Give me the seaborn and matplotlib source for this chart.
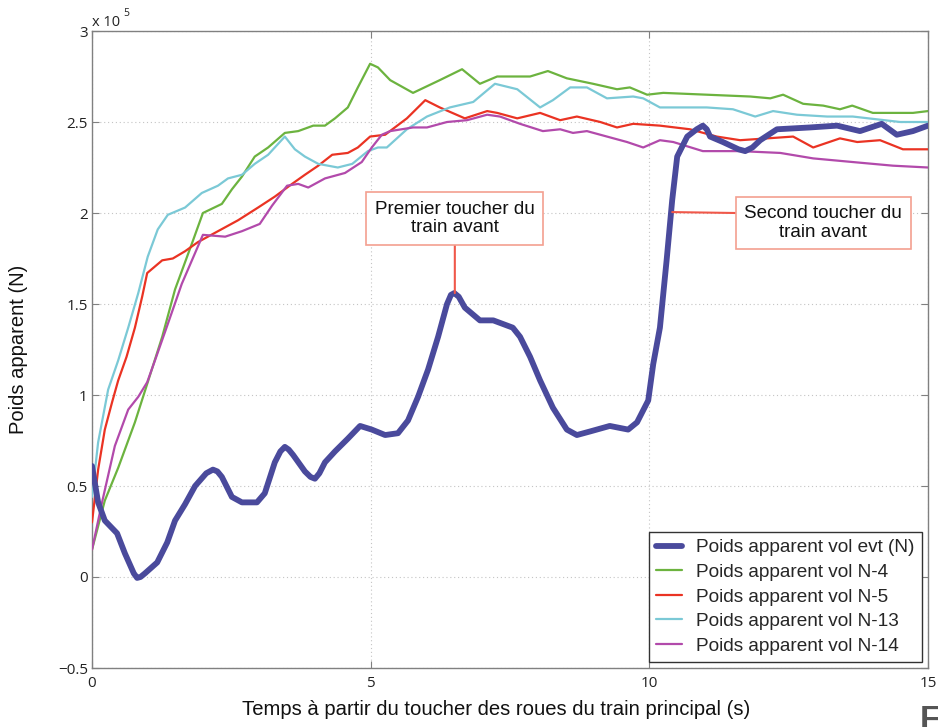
import matplotlib
matplotlib.use("Agg")
import matplotlib.pyplot as plt
import seaborn as sns
from matplotlib.ticker import FuncFormatter

# Apparent weight (units of 1e5 N) against time since main-gear touchdown (s)
t_evt = [0, 0.11, 0.23, 0.45, 0.59, 0.75, 0.81, 0.87, 0.95, 1.17, 1.35, 1.49, 1.67, 1.85, 2.05,
         2.17, 2.25, 2.33, 2.51, 2.69, 2.96, 3.10, 3.28, 3.38, 3.46, 3.53, 3.61, 3.82, 3.92, 4.0,
         4.08, 4.18, 4.36, 4.59, 4.81, 5.02, 5.26, 5.49, 5.67, 5.85, 6.03, 6.21, 6.37, 6.44,
         6.50, 6.58, 6.69, 6.96, 7.2, 7.55, 7.68, 7.86, 8.04, 8.27, 8.52, 8.70, 8.94, 9.29,
         9.62, 9.78, 9.98, 10.07, 10.19, 10.31, 10.41, 10.5, 10.68, 10.85, 10.96, 11.03, 11.09,
         11.32, 11.6, 11.72, 11.85, 11.99, 12.29, 12.88, 13.37, 13.78, 14.17, 14.44, 14.73, 15.0]
w_evt = [0.61, 0.41, 0.31, 0.24, 0.13, 0.02, -0.005, 0.0, 0.02, 0.08, 0.19, 0.31, 0.40, 0.50, 0.57,
         0.59, 0.58, 0.55, 0.44, 0.41, 0.41, 0.46, 0.63, 0.69, 0.715, 0.70, 0.67, 0.58, 0.55, 0.54,
         0.57, 0.63, 0.69, 0.76, 0.83, 0.81, 0.78, 0.79, 0.86, 0.99, 1.14, 1.32, 1.50, 1.55,
         1.56, 1.54, 1.48, 1.41, 1.41, 1.37, 1.32, 1.21, 1.08, 0.93, 0.81, 0.78, 0.80, 0.83,
         0.81, 0.85, 0.97, 1.17, 1.37, 1.74, 2.07, 2.31, 2.42, 2.46, 2.48, 2.46, 2.42,
         2.39, 2.35, 2.34, 2.36, 2.40, 2.46, 2.47, 2.48, 2.45, 2.49, 2.43, 2.45, 2.48]

t_n4 = [0, 0.23, 0.47, 0.77, 1.0, 1.26, 1.49, 1.79, 1.99, 2.33, 2.51, 2.69, 2.92, 3.16, 3.46,
        3.70, 3.97, 4.18, 4.36, 4.59, 4.77, 4.99, 5.13, 5.35, 5.76, 6.24, 6.64, 6.96, 7.27,
        7.86, 8.18, 8.52, 8.99, 9.42, 9.65, 9.96, 10.25, 11.03, 11.81, 12.17, 12.40, 12.76,
        13.12, 13.42, 13.64, 14.01, 14.5, 14.73, 15.0]
w_n4 = [0.15, 0.42, 0.60, 0.85, 1.07, 1.32, 1.58, 1.83, 2.0, 2.05, 2.13, 2.20, 2.31, 2.36, 2.44,
        2.45, 2.48, 2.48, 2.52, 2.58, 2.69, 2.82, 2.80, 2.73, 2.66, 2.73, 2.79, 2.71, 2.75,
        2.75, 2.78, 2.74, 2.71, 2.68, 2.69, 2.65, 2.66, 2.65, 2.64, 2.63, 2.65, 2.60,
        2.59, 2.57, 2.59, 2.55, 2.55, 2.55, 2.56]

t_n5 = [0, 0.11, 0.23, 0.36, 0.47, 0.62, 0.77, 0.90, 0.99, 1.26, 1.45, 1.67, 1.90, 2.26, 2.62,
        2.98, 3.28, 3.59, 3.82, 4.06, 4.31, 4.59, 4.77, 4.99, 5.26, 5.65, 5.98, 6.24, 6.69,
        7.09, 7.27, 7.63, 8.04, 8.40, 8.70, 9.12, 9.42, 9.71, 10.19, 10.73, 11.21, 11.63,
        12.11, 12.58, 12.94, 13.42, 13.73, 14.14, 14.55, 15.0]
w_n5 = [0.30, 0.59, 0.81, 0.96, 1.08, 1.21, 1.37, 1.54, 1.67, 1.74, 1.75, 1.79, 1.84, 1.90, 1.96,
        2.03, 2.09, 2.16, 2.21, 2.26, 2.32, 2.33, 2.36, 2.42, 2.43, 2.52, 2.62, 2.58, 2.52,
        2.56, 2.55, 2.52, 2.55, 2.51, 2.53, 2.50, 2.47, 2.49, 2.48, 2.46, 2.42, 2.40,
        2.41, 2.42, 2.36, 2.41, 2.39, 2.40, 2.35, 2.35]

t_n13 = [0, 0.11, 0.29, 0.47, 0.65, 0.83, 1.0, 1.18, 1.36, 1.67, 1.97, 2.26, 2.44, 2.69, 2.92,
         3.16, 3.46, 3.64, 3.82, 4.06, 4.41, 4.67, 4.95, 5.13, 5.29, 5.65, 6.01, 6.42, 6.84,
         7.23, 7.63, 8.04, 8.27, 8.58, 8.88, 9.24, 9.71, 9.89, 10.19, 10.32, 11.03, 11.50,
         11.90, 12.22, 12.65, 13.19, 13.65, 14.5, 15.0]
w_n13 = [0.44, 0.74, 1.03, 1.19, 1.37, 1.56, 1.76, 1.91, 1.99, 2.03, 2.11, 2.15, 2.19, 2.21, 2.27,
         2.32, 2.42, 2.35, 2.31, 2.27, 2.25, 2.27, 2.34, 2.36, 2.36, 2.46, 2.53, 2.58, 2.61,
         2.71, 2.68, 2.58, 2.62, 2.69, 2.69, 2.63, 2.64, 2.63, 2.58, 2.58, 2.58, 2.57,
         2.53, 2.56, 2.54, 2.53, 2.53, 2.50, 2.50]

t_n14 = [0, 0.18, 0.41, 0.65, 0.83, 0.99, 1.13, 1.36, 1.61, 1.99, 2.39, 2.69, 3.01, 3.23, 3.50,
         3.70, 3.88, 4.18, 4.54, 4.84, 5.02, 5.20, 5.35, 5.76, 6.01, 6.37, 6.73, 7.09, 7.32,
         7.68, 8.09, 8.40, 8.63, 8.88, 9.24, 9.60, 9.89, 10.19, 10.43, 10.96, 11.63, 12.35,
         12.94, 13.65, 14.37, 15.0]
w_n14 = [0.15, 0.41, 0.72, 0.92, 0.99, 1.07, 1.19, 1.39, 1.61, 1.88, 1.87, 1.90, 1.94, 2.04, 2.15,
         2.16, 2.14, 2.19, 2.22, 2.28, 2.36, 2.43, 2.45, 2.47, 2.47, 2.50, 2.51, 2.54, 2.53,
         2.49, 2.45, 2.46, 2.44, 2.45, 2.42, 2.39, 2.36, 2.40, 2.39, 2.34, 2.34, 2.33,
         2.30, 2.28, 2.26, 2.25]

labels = ["Poids apparent vol evt (N)", "Poids apparent vol N-4", "Poids apparent vol N-5",
          "Poids apparent vol N-13", "Poids apparent vol N-14"]
x_ticks = [0, 5, 10, 15]
y_ticks = [-0.5, 0, 0.5, 1, 1.5, 2, 2.5, 3]

sns.set_style("ticks")
plt.rcParams["font.family"] = ["Open Sans", "DejaVu Sans"]
SANS = ["Liberation Sans", "DejaVu Sans"]

fig = plt.figure(figsize=(9.38, 7.27), dpi=100)
ax = fig.add_axes([92 / 938, 1 - 668 / 727, 836 / 938, 637 / 727])

series = [
    (t_evt, w_evt, "#4a4a9c", 4.2, 5),
    (t_n4, w_n4, "#6cb33f", 1.6, 3),
    (t_n5, w_n5, "#ea3323", 1.6, 3),
    (t_n13, w_n13, "#7bc9d6", 1.6, 3),
    (t_n14, w_n14, "#b24aab", 1.6, 3),
]
for (t, w, color, lw, z), lab in zip(series, labels):
    sns.lineplot(x=t, y=w, ax=ax, color=color, linewidth=lw, label=lab,
                 sort=False, estimator=None, zorder=z,
                 solid_capstyle="round", solid_joinstyle="round")

ax.set_xlim(0, 15)
ax.set_ylim(-0.5, 3)
ax.set_xticks(x_ticks)
ax.set_yticks(y_ticks)
ax.yaxis.set_major_formatter(FuncFormatter(lambda v, p: f"{v:g}".replace("-", "\u2212")))
ax.tick_params(direction="in", length=5, top=True, right=True, color="#808080",
               labelcolor="#222222", labelsize=11)
ax.tick_params(axis="x", pad=6)
ax.tick_params(axis="y", pad=3)
ax.grid(True, linestyle=(0, (1, 2.5)), color="#c4c4c4", linewidth=0.8)
for sp in ax.spines.values():
    sp.set_color("#808080")
    sp.set_linewidth(1.0)

ax.set_xlabel("Temps à partir du toucher des roues du train principal (s)",
              fontsize=14.6, family=SANS, color="#111111")
ax.xaxis.set_label_coords(0.483, -0.05)
ax.set_ylabel("Poids apparent (N)", fontsize=14.5, family=SANS, color="#111111")
ax.yaxis.set_label_coords(-0.077, 0.5)

fig.text(92 / 938, 1 - 22 / 727, "x 10", fontsize=10.5, va="center", ha="left", color="#222222")
fig.text(123 / 938, 1 - 13 / 727, "5", fontsize=7.5, va="center", ha="left", color="#222222")

leg = ax.legend(loc="lower right", frameon=True, fancybox=False, framealpha=1,
                edgecolor="#333333", prop={"family": SANS, "size": 13.7},
                handlelength=1.35, handletextpad=0.75, borderaxespad=0.3,
                labelspacing=0.38, borderpad=0.4)
leg.get_frame().set_linewidth(1.0)
leg.set_zorder(10)

box = dict(boxstyle="square,pad=0.45", fc="white", ec="#f4a090", lw=1.2)
ax.annotate("Premier toucher du\ntrain avant", xy=(6.51, 1.56), xytext=(6.51, 1.97),
            ha="center", va="center", fontsize=13.6, family=SANS, color="#111111",
            linespacing=1.1, bbox=box, zorder=8,
            arrowprops=dict(arrowstyle="-", color="#f0584a", lw=1.5,
                            relpos=(0.5, 0), shrinkA=0, shrinkB=0))
ax.annotate("Second toucher du\ntrain avant", xy=(10.41, 2.005), xytext=(13.12, 1.945),
            ha="center", va="center", fontsize=13.6, family=SANS, color="#111111",
            linespacing=1.1, bbox=box, zorder=8,
            arrowprops=dict(arrowstyle="-", color="#f0584a", lw=1.5,
                            relpos=(0, 0.78), shrinkA=0, shrinkB=0))

fig.text(920 / 938, 1 - 705 / 727, "F", fontsize=24, fontweight="bold", ha="left", va="top",
         color="#555555", family=SANS)

fig.savefig("out.png", dpi=100)
